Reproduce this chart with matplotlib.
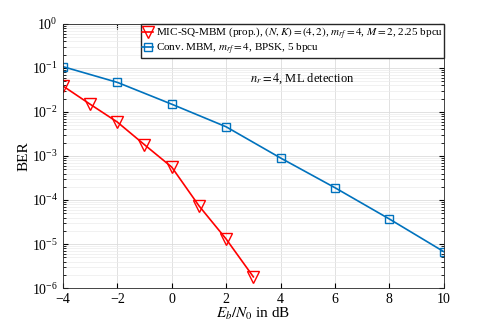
import numpy as np
import matplotlib.pyplot as plt

plt.rcParams['font.family'] = ['Liberation Serif', 'DejaVu Serif']
plt.rcParams['mathtext.fontset'] = 'stix'

snr_prop = [-4, -3, -2, -1, 0, 1, 2, 3]
ber_prop = [0.039, 0.015, 0.0059, 0.0018, 5.6e-4, 7.4e-5, 1.3e-5, 1.8e-6]

snr_conv = [-4, -2, 0, 2, 4, 6, 8, 10]
ber_conv = [0.107, 0.047, 0.015, 0.0046, 9.0e-4, 1.9e-4, 3.7e-5, 6.7e-6]

fig = plt.figure(figsize=(4.91, 3.27), dpi=100)
ax = fig.add_axes([0.128, 0.119, 0.776, 0.808])

ax.semilogy(snr_prop, ber_prop, color='red', marker='v', markersize=8,
            markerfacecolor='none', markeredgewidth=1.0, linewidth=1.2,
            label=r'MIC-SQ-MBM (prop.), $(N,K)=(4,2)$, $m_{rf}=4$, $M=2$, 2.25 bpcu')
ax.semilogy(snr_conv, ber_conv, color='#0072BD', marker='s', markersize=6,
            markerfacecolor='none', markeredgewidth=1.0, linewidth=1.2,
            label=r'Conv. MBM, $m_{rf}=4$, BPSK, 5 bpcu')

ax.set_xlim(-4, 10)
ax.set_ylim(1e-6, 1)
ax.set_xticks(range(-4, 11, 2))
ax.grid(True, which='major', color='#dcdcdc', linewidth=0.6)
ax.grid(True, which='minor', color='#ececec', linewidth=0.5)
ax.tick_params(which='both', direction='in', top=True, right=True, labelsize=10)
for s in ax.spines.values():
    s.set_color('#262626')
    s.set_linewidth(0.6)

ax.set_xlabel(r'$E_b/N_0$ in dB', fontsize=11, labelpad=0)
ax.set_ylabel('BER', fontsize=11, labelpad=1)
ax.text(0.49, 0.78, r'$n_r=4$, ML detection', transform=ax.transAxes, fontsize=9)

ax.legend(loc='upper right', fontsize=8, handlelength=1.0, handletextpad=0.2,
          borderpad=0.1, labelspacing=0.05, borderaxespad=0.0, fancybox=False,
          edgecolor='#262626', framealpha=1)

fig.savefig('out.png', dpi=100)
